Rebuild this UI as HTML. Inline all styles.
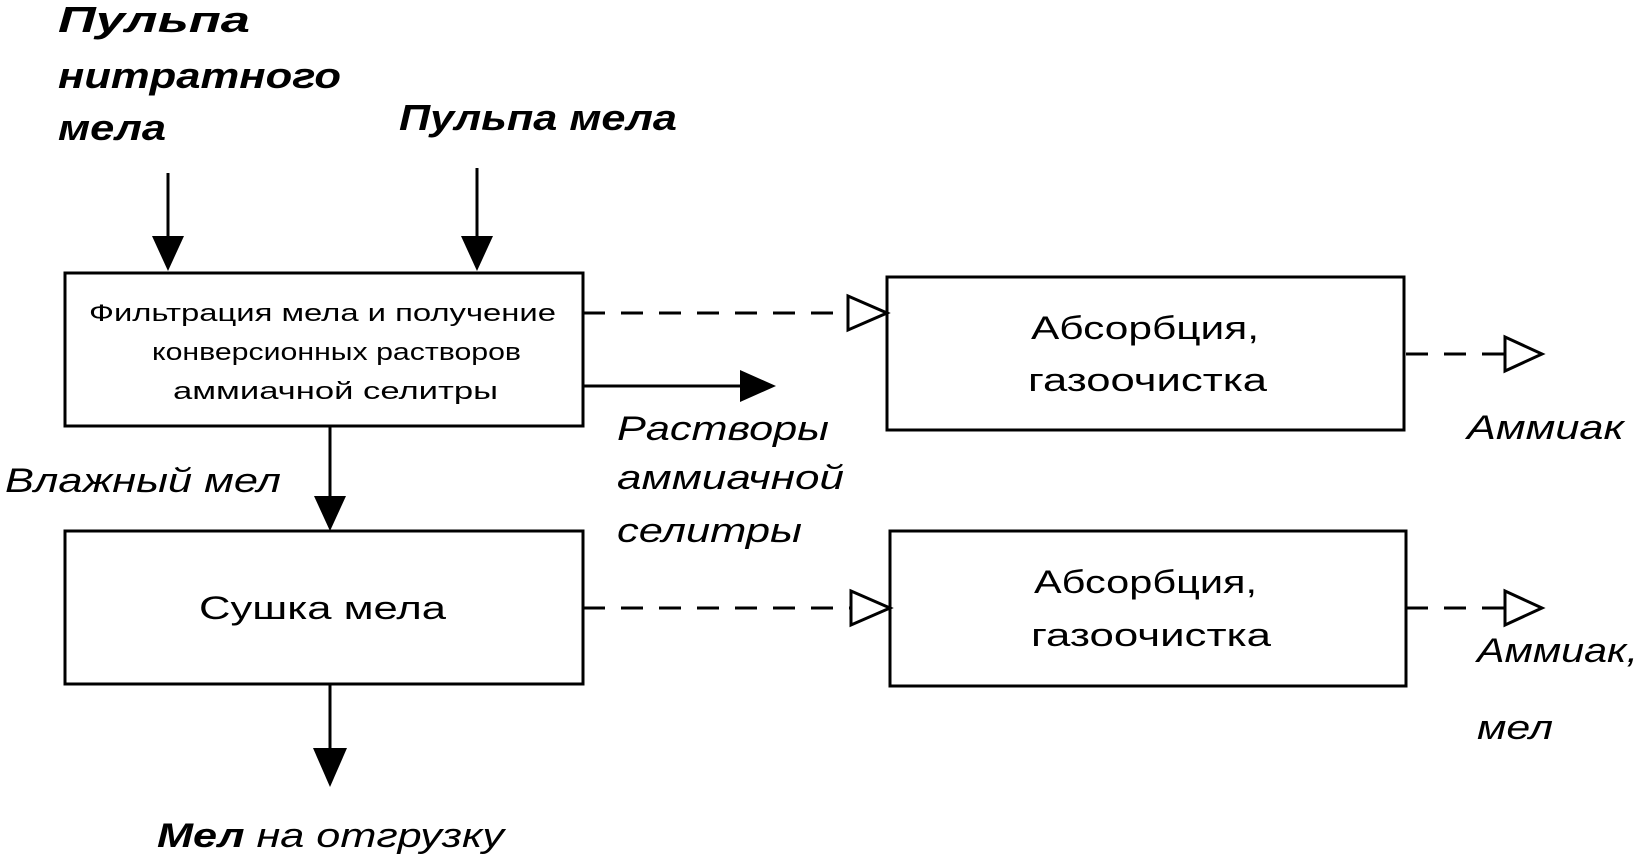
<!DOCTYPE html>
<html><head><meta charset="utf-8"><style>
html,body{margin:0;padding:0;background:#fff;}
svg{display:block;}
text{font-family:"Liberation Sans",sans-serif;fill:#000;}
.bi{font-weight:bold;font-style:italic;font-size:36px;}
.it{font-style:italic;font-size:34px;}
</style></head><body>
<svg width="1642" height="858" viewBox="0 0 1642 858" xmlns="http://www.w3.org/2000/svg">
<g fill="none" stroke="#000" stroke-width="3">
<rect x="65" y="273" width="518" height="153"/>
<rect x="65" y="531" width="518" height="153"/>
<rect x="887" y="277" width="517" height="153"/>
<rect x="890" y="531" width="516" height="155"/>
<line x1="168" y1="173" x2="168" y2="240"/>
<line x1="477" y1="168" x2="477" y2="240"/>
<line x1="330" y1="426" x2="330" y2="500"/>
<line x1="330" y1="684" x2="330" y2="752"/>
<line x1="583" y1="386" x2="745" y2="386"/>
<line x1="583" y1="313" x2="848" y2="313" stroke-dasharray="22,16"/>
<line x1="583" y1="608" x2="850" y2="608" stroke-dasharray="22,16"/>
<line x1="1406" y1="354" x2="1505" y2="354" stroke-dasharray="22,16"/>
<line x1="1406" y1="608" x2="1505" y2="608" stroke-dasharray="22,16"/>
<polygon points="848,296 887,313 848,330" fill="#fff"/>
<polygon points="851,591 890,608 851,625" fill="#fff"/>
<polygon points="1505,337 1542,354 1505,371" fill="#fff"/>
<polygon points="1505,591 1542,608 1505,625" fill="#fff"/>
</g>
<g fill="#000">
<polygon points="152,236 184,236 168,271"/>
<polygon points="461,236 493,236 477,271"/>
<polygon points="314,496 346,496 330,531"/>
<polygon points="313,748 347,748 330,787"/>
<polygon points="740,370 776,386 740,402"/>
</g>
<text class="bi" x="58" y="32" textLength="192" lengthAdjust="spacingAndGlyphs">Пульпа</text>
<text class="bi" x="58" y="88" textLength="283" lengthAdjust="spacingAndGlyphs">нитратного</text>
<text class="bi" x="58" y="140" textLength="108" lengthAdjust="spacingAndGlyphs">мела</text>
<text class="bi" x="399" y="130" textLength="278" lengthAdjust="spacingAndGlyphs">Пульпа мела</text>
<g font-size="24">
<text x="89" y="321" textLength="467" lengthAdjust="spacingAndGlyphs">Фильтрация мела и получение</text>
<text x="152" y="360" textLength="369" lengthAdjust="spacingAndGlyphs">конверсионных растворов</text>
<text x="173" y="399" textLength="325" lengthAdjust="spacingAndGlyphs">аммиачной селитры</text>
</g>
<g font-size="32">
<text x="1031" y="339" textLength="228" lengthAdjust="spacingAndGlyphs">Абсорбция,</text>
<text x="1028" y="391" textLength="239" lengthAdjust="spacingAndGlyphs">газоочистка</text>
<text x="1034" y="593" textLength="223" lengthAdjust="spacingAndGlyphs">Абсорбция,</text>
<text x="1031" y="646" textLength="240" lengthAdjust="spacingAndGlyphs">газоочистка</text>
<text x="199" y="619" textLength="247" lengthAdjust="spacingAndGlyphs">Сушка мела</text>
</g>
<text class="it" x="5" y="492" textLength="276" lengthAdjust="spacingAndGlyphs">Влажный мел</text>
<text class="it" x="617" y="440" textLength="212" lengthAdjust="spacingAndGlyphs">Растворы</text>
<text class="it" x="617" y="489" textLength="227" lengthAdjust="spacingAndGlyphs">аммиачной</text>
<text class="it" x="617" y="542" textLength="185" lengthAdjust="spacingAndGlyphs">селитры</text>
<text class="it" x="1467" y="439" textLength="157" lengthAdjust="spacingAndGlyphs">Аммиак</text>
<text class="it" x="1477" y="662" textLength="161" lengthAdjust="spacingAndGlyphs">Аммиак,</text>
<text class="it" x="1477" y="739" textLength="76" lengthAdjust="spacingAndGlyphs">мел</text>
<text class="it" x="157" y="847" textLength="347" lengthAdjust="spacingAndGlyphs"><tspan font-weight="bold">Мел</tspan> на отгрузку</text>
</svg>
</body></html>
